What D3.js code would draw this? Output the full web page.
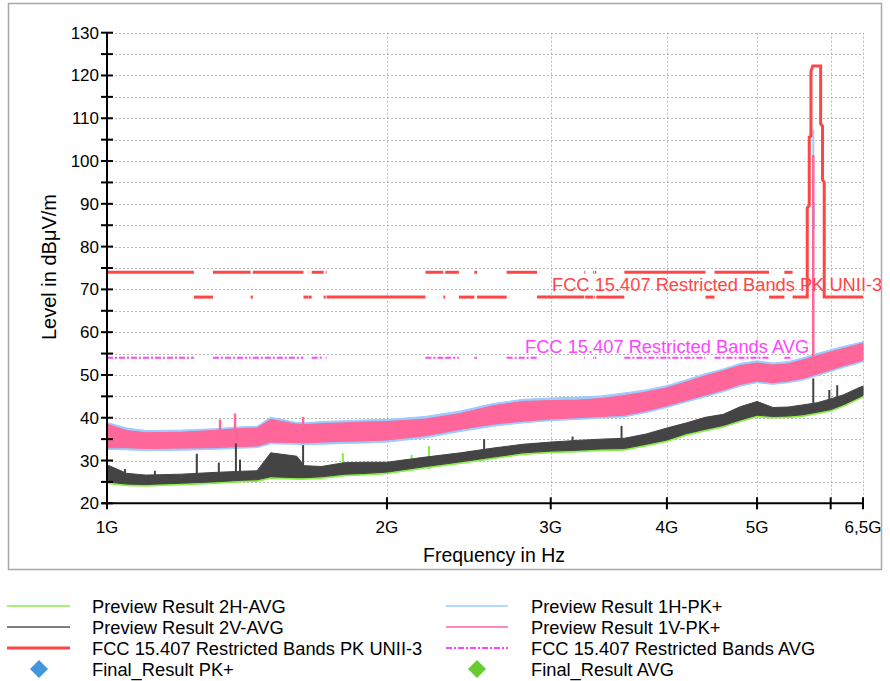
<!DOCTYPE html>
<html><head><meta charset="utf-8">
<script src="https://cdn.jsdelivr.net/npm/d3@7"></script>
<style>
html,body{margin:0;padding:0;background:#fff;}
text{font-family:"Liberation Sans",Arial,Helvetica,sans-serif;}
</style></head>
<body><svg id="c" width="890" height="681"></svg>
<script>
// ---------- DATA (frequencies in GHz, levels in dBµV/m) ----------
const freqGHz   = [1.0,1.05,1.1,1.2,1.3,1.4,1.45,1.5,1.6,1.63,1.7,1.8,1.9,2.0,2.2,2.4,2.6,2.8,3.0,3.2,3.4,3.6,3.8,4.0,4.2,4.4,4.6,4.8,5.0,5.2,5.4,5.6,5.8,6.0,6.2,6.4,6.5];
// Preview Result 1V-PK+ (upper / lower envelope)
const pk1V_hi   = [38.5,37.0,36.5,36.6,37.0,37.5,37.6,39.6,38.5,38.4,38.6,38.8,39.0,39.1,39.7,41.0,42.8,43.8,44.0,44.1,44.5,45.2,46.0,47.0,48.4,49.8,51.0,52.2,52.8,52.3,52.6,53.5,54.5,55.4,56.2,57.0,57.4];
const pk1V_lo   = [33.0,33.0,32.8,32.9,33.0,33.3,33.4,34.3,34.2,34.1,34.3,34.5,34.6,34.8,35.8,37.3,38.5,39.2,39.7,40.0,40.3,40.6,41.6,42.8,44.1,45.3,46.5,47.8,48.6,48.2,48.6,49.2,50.2,51.2,52.2,53.0,53.5];
// Preview Result 1H-PK+
const pk1H_hi   = [38.9,37.6,37.0,37.1,37.4,37.9,38.0,40.1,38.9,38.8,39.1,39.3,39.5,39.6,40.3,41.6,43.3,44.3,44.6,44.8,45.1,45.8,46.5,47.5,48.9,50.3,51.4,52.7,53.3,52.8,53.1,54.0,55.0,55.9,56.7,57.4,57.8];
const pk1H_lo   = [32.6,32.5,32.3,32.4,32.6,32.9,33.0,33.9,33.8,33.7,33.8,34.0,34.1,34.3,35.3,36.8,38.0,38.8,39.3,39.6,39.9,40.2,41.2,42.4,43.7,44.9,46.1,47.4,48.2,47.8,48.2,48.8,49.8,50.8,51.8,52.6,53.1];
// Preview Result 2V-AVG
const av2V_hi   = [29.0,27.0,26.6,26.8,27.2,27.5,27.6,31.8,31.0,28.8,28.6,29.5,29.6,29.6,30.8,31.8,32.9,33.8,34.3,34.7,35.0,35.2,36.2,37.6,38.8,40.1,40.8,42.6,43.8,42.4,42.5,43.0,43.5,44.4,45.4,46.8,47.4];
const av2V_lo   = [25.0,24.5,24.4,24.7,25.0,25.4,25.5,26.2,26.0,26.0,26.2,26.8,27.0,27.3,28.6,29.7,30.8,31.8,32.2,32.4,32.7,32.8,33.8,34.8,36.3,37.3,38.2,39.5,40.6,40.3,40.4,40.7,41.3,41.9,43.1,44.5,45.2];
// Preview Result 2H-AVG
const av2H_hi   = [28.7,26.7,26.3,26.5,26.9,27.2,27.3,31.4,30.6,28.5,28.4,29.2,29.3,29.4,30.5,31.5,32.6,33.5,34.0,34.4,34.7,34.9,35.9,37.3,38.5,39.8,40.5,42.3,43.5,42.1,42.2,42.7,43.2,44.1,45.1,46.5,47.1];
const av2H_lo   = [24.6,24.1,24.0,24.3,24.6,25.0,25.1,25.8,25.6,25.6,25.8,26.4,26.6,26.9,28.2,29.3,30.4,31.4,31.8,32.0,32.3,32.4,33.4,34.4,35.9,36.9,37.8,39.1,40.2,39.9,40.0,40.3,40.9,41.5,42.7,44.1,44.8];
// isolated spikes: [freq, from, to]
const spikes1V  = [[1.323,35,39.6],[1.373,35,41.0],[1.625,36,40.2],[5.747,50,101.4]];
const spikes1H  = [[5.747,95,107.3],[5.757,84,90.5]];
const spikes2V  = [[1.0456,26,28.0],[1.126,26,27.6],[1.249,26,31.5],[1.319,26,29.5],[1.376,26,34.0],[1.390,26,30.2],[1.625,27,33.6],[2.544,31,35.0],[3.167,33,35.6],[3.575,33,38.1],[5.747,42,49.2],[5.98,43,46.5],[6.098,43,47.6]];
const spikes2H  = [[1.249,26,31.7],[1.793,27,31.7],[2.126,28,31.3],[2.219,28,33.4]];
// limits
const restrictedBands = [[1.0,1.24],[1.3,1.427],[1.435,1.6265],[1.6455,1.6465],[1.66,1.71],[1.7188,1.7222],[2.2,2.3],[2.31,2.39],[2.4835,2.5],[2.69,2.9],[3.26,3.267],[3.332,3.339],[3.3458,3.358],[3.6,4.4],[4.5,5.15],[5.35,5.46]];
const openBands = [[1.24,1.3],[1.427,1.435],[1.6265,1.6455],[1.6465,1.66],[1.71,1.7188],[1.7222,2.2],[2.3,2.31],[2.39,2.4835],[2.5,2.69],[2.9,3.26],[3.267,3.332],[3.339,3.3458],[3.358,3.6],[4.4,4.5],[5.15,5.35]];
const pkRestrictedLevel = 74, pkOpenLevel = 68.2, avgRestrictedLevel = 54;
const unii3Mask = [[5.46,68.2],[5.662,68.2],[5.662,89.0],[5.690,89.6],[5.690,105.6],[5.714,105.8],[5.714,120.9],[5.739,122.2],[5.853,122.2],[5.853,108.7],[5.880,108.2],[5.880,95.6],[5.905,95.0],[5.905,68.2],[6.5,68.2]];
// axes
const xTicks = [1,2,3,4,5,6,6.5];
const xTickLabels = ["1G","2G","3G","4G","5G","","6,5G"];
const yTicksMajor = [20,30,40,50,60,70,80,90,100,110,120,130];
const yTicksAll = [20,25,30,35,40,45,50,55,60,65,70,75,80,85,90,95,100,105,110,115,120,125,130];
const legendCol1 = ["Preview Result 2H-AVG","Preview Result 2V-AVG","FCC 15.407 Restricted Bands PK UNII-3","Final_Result PK+"];
const legendCol2 = ["Preview Result 1H-PK+","Preview Result 1V-PK+","FCC 15.407 Restricted Bands AVG","Final_Result AVG"];

// ---------- DRAWING ----------
const svg = d3.select("#c");
const C = {green:"#88ee44", gray:"#444444", red:"#ff4646", blue:"#99ccff", pink:"#ff6699", mag:"#ff44ff", dBlue:"#4196dc", dGreen:"#66cc33"};
svg.append("rect").attr("x",8.5).attr("y",3.5).attr("width",873).attr("height",566)
  .attr("fill","#fff").attr("stroke","#a8a8a8").attr("stroke-width",1.5);

const x = d3.scaleLog().domain([1,6.5]).range([107,863]);
const y = d3.scaleLinear().domain([20,130]).range([503.3,32.7]);

// grid
const grid = svg.append("g").attr("stroke","#b8b8b8").attr("stroke-width",1).attr("stroke-dasharray","2,2");
yTicksAll.filter(v=>v>20).forEach(v=>grid.append("line").attr("x1",107).attr("x2",863).attr("y1",Math.round(y(v))+0.5).attr("y2",Math.round(y(v))+0.5));
xTicks.filter(v=>v>1).forEach(v=>grid.append("line").attr("y1",y(130)).attr("y2",y(20)).attr("x1",Math.round(x(v))+0.5).attr("x2",Math.round(x(v))+0.5));

const plot = svg.append("g");
function band(hi, lo, color){
  const data = freqGHz.map((f,i)=>({f, hi:hi[i], lo:lo[i]}));
  plot.append("path").datum(data)
    .attr("d", d3.area().x(d=>x(d.f)).y0(d=>y(d.lo)).y1(d=>y(d.hi)))
    .attr("fill",color).attr("stroke",color).attr("stroke-width",1);
}
function spikes(arr,color,w){
  plot.selectAll(null).data(arr).enter().append("line")
    .attr("x1",d=>x(d[0])).attr("x2",d=>x(d[0])).attr("y1",d=>y(d[1])).attr("y2",d=>y(d[2]))
    .attr("stroke",color).attr("stroke-width",w);
}
band(pk1H_hi,pk1H_lo,C.blue); spikes(spikes1H,C.blue,2);
band(pk1V_hi,pk1V_lo,C.pink); spikes(spikes1V,C.pink,2.5);
band(av2H_hi,av2H_lo,C.green); spikes(spikes2H,C.green,2);
band(av2V_hi,av2V_lo,C.gray); spikes(spikes2V,C.gray,2);

// limits
const lim = svg.append("g");
restrictedBands.forEach(b=>lim.append("line").attr("x1",x(b[0])).attr("x2",x(b[1]))
  .attr("y1",y(avgRestrictedLevel)).attr("y2",y(avgRestrictedLevel))
  .attr("stroke",C.mag).attr("stroke-width",2).attr("stroke-dasharray","6,2,2,2"));
restrictedBands.forEach(b=>lim.append("line").attr("x1",x(b[0])).attr("x2",x(b[1]))
  .attr("y1",y(pkRestrictedLevel)).attr("y2",y(pkRestrictedLevel)).attr("stroke",C.red).attr("stroke-width",3));
openBands.forEach(b=>lim.append("line").attr("x1",x(b[0])).attr("x2",x(b[1]))
  .attr("y1",y(pkOpenLevel)).attr("y2",y(pkOpenLevel)).attr("stroke",C.red).attr("stroke-width",3));
lim.append("path").datum(unii3Mask).attr("d",d3.line().x(d=>x(d[0])).y(d=>y(d[1])))
  .attr("fill","none").attr("stroke",C.red).attr("stroke-width",3).attr("stroke-linejoin","miter");

svg.append("text").attr("x",552).attr("y",291).attr("fill",C.red).attr("font-size",18.3)
  .text("FCC 15.407 Restricted Bands PK UNII-3");
svg.append("text").attr("x",525).attr("y",353).attr("fill",C.mag).attr("font-size",18.3)
  .text("FCC 15.407 Restricted Bands AVG");

// axes
const ax = svg.append("g").attr("stroke","#000");
ax.append("line").attr("x1",107).attr("x2",107).attr("y1",y(130)).attr("y2",y(20)+5).attr("stroke-width",2);
ax.append("line").attr("x1",107-5).attr("x2",863).attr("y1",y(20)).attr("y2",y(20)).attr("stroke-width",2);
yTicksAll.forEach(v=>ax.append("line").attr("x1",101).attr("x2",113).attr("y1",y(v)).attr("y2",y(v)).attr("stroke-width",2));
xTicks.forEach(v=>ax.append("line").attr("x1",x(v)).attr("x2",x(v)).attr("y1",y(20)-6).attr("y2",y(20)+6).attr("stroke-width",2));
svg.selectAll(null).data(yTicksMajor).enter().append("text")
  .attr("x",99).attr("y",v=>y(v)+6).attr("text-anchor","end").attr("font-size",17).text(v=>v);
svg.selectAll(null).data(xTicks).enter().append("text")
  .attr("x",v=>x(v)).attr("y",533).attr("text-anchor","middle").attr("font-size",17).text((v,i)=>xTickLabels[i]);
svg.append("text").attr("x",494).attr("y",562).attr("text-anchor","middle").attr("font-size",19.5).text("Frequency in Hz");
svg.append("text").attr("transform","translate(56,267) rotate(-90)").attr("text-anchor","middle").attr("font-size",20).text("Level in dBμV/m");

// legend
const rowsY = [606,627,648,669];
const lg = svg.append("g");
function legendItem(cx, lineX1, lineX2, textX, rowY, label, kind, color){
  if(kind==="diamond"){
    lg.append("path").attr("d","M0,-9L9,0L0,9L-9,0Z").attr("transform",`translate(${cx},${rowY})`).attr("fill",color);
  } else {
    const l = lg.append("line").attr("x1",lineX1).attr("x2",lineX2).attr("y1",rowY).attr("y2",rowY).attr("stroke",color)
      .attr("stroke-width", kind==="thick"?3:(kind==="dash"?2:1.5));
    if(kind==="dash") l.attr("stroke-dasharray","6,2,2,2");
  }
  lg.append("text").attr("x",textX).attr("y",rowY+7).attr("font-size",18.3).text(label);
}
const k1 = ["line","line","thick","diamond"], c1 = [C.green,"#555",C.red,C.dBlue];
const k2 = ["line","line","dash","diamond"], c2 = [C.blue,C.pink,C.mag,C.dGreen];
legendCol1.forEach((t,i)=>legendItem(39,7,70,92,rowsY[i],t,k1[i],c1[i]));
legendCol2.forEach((t,i)=>legendItem(477,446,508,531,rowsY[i],t,k2[i],c2[i]));
</script></body></html>
